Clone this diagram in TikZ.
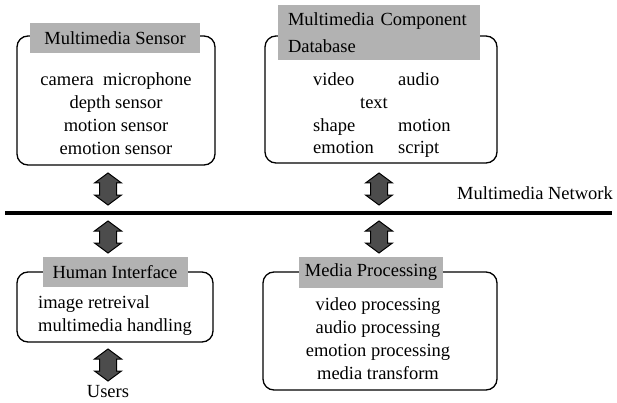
\documentclass[tikz,border=0pt]{standalone}
\usepackage{fontspec}
\setmainfont{Liberation Serif}

\begin{document}
\begin{tikzpicture}[x=1pt,y=-1pt]
\tikzstyle{txt}=[inner sep=0pt,font=\fontsize{18.5}{23}\selectfont]
\tikzstyle{part}=[draw=black,line width=1.3pt,rounded corners=11pt]
\tikzstyle{title}=[txt,fill=black!30,inner sep=0pt]
\tikzset{dbarrow/.pic={
  \draw[line width=1pt,fill=black!70,line join=miter]
    (0,-16) -- (13.5,-6) -- (8.5,-6) -- (8.5,6) -- (13.5,6) -- (0,16)
    -- (-13.5,6) -- (-8.5,6) -- (-8.5,-6) -- (-13.5,-6) -- cycle;
  \coordinate (-c) at (0,0);}}
\useasboundingbox (0,0) rectangle (617,403);
% the four parts
\draw[part] (17,36) rectangle (215,165);
\draw[part] (265,36) rectangle (497,163);
\draw[part] (17,272) rectangle (213,342);
\draw[part] (263,272) rectangle (497,390);
% titles
\node[title,minimum width=170pt,minimum height=30pt] (senst) at (115,38) {Multimedia Sensor};
\node[title,minimum width=202pt,minimum height=55pt,align=left,text width=182pt,font=\fontsize{18.5}{27}\selectfont] (dbt) at (379,33) {Multimedia Component\\Database};
\node[title,minimum width=145pt,minimum height=30pt] (humt) at (115,272) {Human Interface};
\node[title,minimum width=144pt,minimum height=31pt] (proct) at (371,272) {Media Processing};
% contents
\node[txt,align=center] (sens) at (116,114) {camera\ \ microphone\\depth sensor\\motion sensor\\emotion sensor};
\node[txt,anchor=base west] (d1) at (313,86) {video};
\node[txt,anchor=base west] (d2) at (398,86) {audio};
\node[txt,anchor=base] (d3) at (374,109) {text};
\node[txt,anchor=base west] (d4) at (313,132) {shape};
\node[txt,anchor=base west] (d5) at (398,132) {motion};
\node[txt,anchor=base west] (d6) at (313,154) {emotion};
\node[txt,anchor=base west] (d7) at (398,154) {script};
\node[txt,align=left,anchor=west] (hum) at (38,316) {image retreival\\multimedia handling};
\node[txt,align=center] (proc) at (378,339) {video processing\\audio processing\\emotion processing\\media transform};
\node[txt] (users) at (108,392) {Users};
\node[txt] (net) at (535,193) {Multimedia Network};
% network
\coordinate (netl) at (5,213);
\coordinate (netr) at (612,213);
\draw[line width=4pt] (netl) -- (netr);
% arrows
\pic (a1) at (108,189) {dbarrow};
\pic (a2) at (379,189) {dbarrow};
\pic (a3) at (108,237) {dbarrow};
\pic (a4) at (379,237) {dbarrow};
\pic (a5) at (108,365) {dbarrow};
\end{tikzpicture}
\end{document}
